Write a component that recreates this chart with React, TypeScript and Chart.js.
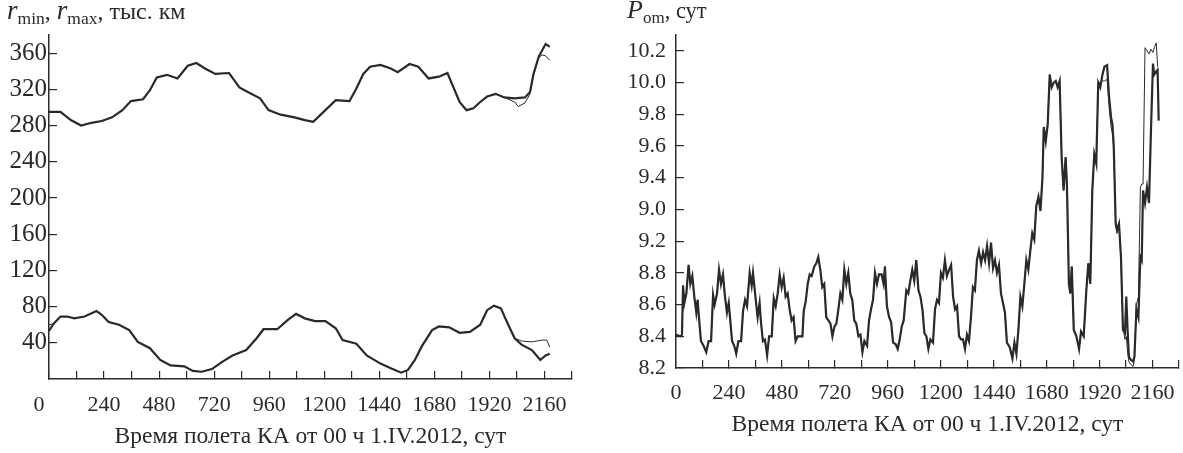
import React, { useEffect, useRef } from 'react';
import { Chart, registerables } from 'chart.js';
Chart.register(...registerables);

const FONT = "'Liberation Serif', 'Times New Roman', serif";
const INK = '#2a2a2a';

// ---- Left chart: r_min, r_max (thousand km) vs days ----
const rMaxDays = [0, 50, 95, 140, 185, 230, 275, 320, 357, 410,
  440, 470, 515, 560, 605, 642, 680, 725, 785, 830,
  875, 920, 957, 1010, 1070, 1115, 1152, 1205, 1250, 1310,
  1340, 1370, 1400, 1445, 1490, 1520, 1572, 1610, 1655, 1700,
  1737, 1760, 1790, 1820, 1850, 1880, 1910, 1947, 1985, 2030,
  2075, 2097, 2112, 2135, 2165, 2183];
const rMaxA = [295, 295, 286, 280, 283, 285, 289, 297, 307, 309,
  319, 333, 336, 332, 346, 349, 343, 337, 338, 322,
  316, 310, 297, 292, 289, 286, 284, 297, 308, 307,
  321, 337, 345, 347, 343, 339, 348, 345, 332, 334,
  338, 324, 306, 297, 299, 306, 312, 315, 311, 310,
  311, 317, 337, 356, 370, 367];
const rMaxBTailDays = [2030, 2045, 2075, 2097, 2112, 2135, 2150, 2165, 2183];
const rMaxBTail = [306, 301, 305, 315, 335, 355, 358, 357, 352];

const rMinDays = [0, 20, 50, 80, 110, 155, 207, 230, 260, 305,
  350, 387, 440, 485, 530, 590, 627, 665, 710, 755,
  800, 860, 905, 935, 995, 1040, 1077, 1115, 1160, 1205,
  1250, 1280, 1340, 1385, 1445, 1490, 1535, 1565, 1595, 1625,
  1670, 1700, 1745, 1790, 1835, 1880, 1910, 1940, 1970, 2000,
  2030, 2060, 2105, 2142, 2165, 2183];
const rMinA = [53, 61, 69, 69, 67, 69, 75, 71, 63, 60,
  54, 41, 34, 21, 15, 14, 9, 8, 11, 19,
  26, 32, 45, 55, 55, 65, 72, 67, 64, 64,
  56, 43, 39, 26, 17, 12, 7, 10, 21, 36,
  54, 58, 57, 51, 52, 60, 76, 81, 78, 61,
  45, 38, 32, 21, 26, 28];
const rMinBHeadDays = [0];
const rMinBHead = [60];
const rMinBTailDays = [2030, 2060, 2105, 2150, 2170, 2183];
const rMinBTail = [45, 42, 41, 43, 43, 35];

// ---- Right chart: P_om (days) vs days ----
const pOmDays = [0, 20, 27, 32, 38, 47, 57, 65, 74, 83,
  92, 98, 104, 113, 125, 137, 148, 159, 168, 175,
  186, 195, 204, 213, 222, 231, 239, 246, 254, 264,
  273, 283, 295, 304, 313, 322, 334, 343, 349, 360,
  370, 379, 385, 394, 403, 413, 422, 434, 443, 452,
  461, 470, 479, 488, 497, 506, 515, 524, 533, 542,
  552, 564, 573, 579, 588, 597, 606, 615, 627, 636,
  645, 654, 663, 672, 681, 691, 700, 709, 718, 727,
  736, 745, 754, 763, 772, 781, 790, 799, 808, 817,
  827, 836, 845, 854, 866, 875, 884, 893, 902, 911,
  920, 932, 941, 947, 956, 966, 975, 984, 996, 1005,
  1014, 1023, 1032, 1044, 1053, 1062, 1071, 1080, 1089, 1099,
  1108, 1117, 1126, 1135, 1144, 1153, 1165, 1174, 1183, 1192,
  1201, 1210, 1219, 1228, 1238, 1247, 1256, 1265, 1274, 1283,
  1292, 1301, 1310, 1319, 1328, 1337, 1346, 1355, 1364, 1373,
  1383, 1392, 1401, 1410, 1419, 1428, 1437, 1446, 1455, 1464,
  1473, 1482, 1491, 1500, 1513, 1525, 1534, 1543, 1552, 1561,
  1570, 1579, 1588, 1597, 1606, 1615, 1624, 1633, 1643, 1652,
  1661, 1667, 1676, 1685, 1694, 1703, 1712, 1721, 1730, 1739,
  1748, 1757, 1766, 1772, 1781, 1787, 1794, 1803, 1815, 1827,
  1836, 1848, 1860, 1869, 1878, 1887, 1896, 1905, 1914, 1923,
  1933, 1942, 1954, 1963, 1972, 1978, 1984, 1993, 1999, 2008,
  2017, 2026, 2035, 2041, 2047, 2053, 2063, 2072, 2078, 2087,
  2096, 2105, 2111, 2117, 2126, 2135, 2144, 2153, 2162, 2168,
  2177, 2183, 2188];
const pOmA = [8.41, 8.40, 8.41, 8.72, 8.61, 8.67, 8.85, 8.73, 8.78, 8.65,
  8.55, 8.63, 8.52, 8.37, 8.34, 8.30, 8.37, 8.37, 8.66, 8.60,
  8.67, 8.82, 8.73, 8.79, 8.65, 8.55, 8.61, 8.50, 8.37, 8.34,
  8.29, 8.37, 8.37, 8.56, 8.63, 8.59, 8.80, 8.72, 8.80, 8.65,
  8.52, 8.61, 8.49, 8.37, 8.38, 8.28, 8.40, 8.40, 8.64, 8.59,
  8.67, 8.79, 8.71, 8.77, 8.65, 8.67, 8.57, 8.50, 8.52, 8.37,
  8.40, 8.40, 8.40, 8.56, 8.62, 8.73, 8.79, 8.78, 8.84, 8.86,
  8.90, 8.82, 8.71, 8.73, 8.52, 8.50, 8.48, 8.40, 8.46, 8.48,
  8.57, 8.67, 8.63, 8.82, 8.73, 8.80, 8.67, 8.63, 8.50, 8.48,
  8.40, 8.41, 8.30, 8.37, 8.34, 8.50, 8.57, 8.63, 8.80, 8.73,
  8.79, 8.79, 8.73, 8.84, 8.59, 8.52, 8.49, 8.36, 8.35, 8.32,
  8.38, 8.46, 8.50, 8.69, 8.67, 8.75, 8.82, 8.75, 8.88, 8.69,
  8.65, 8.57, 8.42, 8.40, 8.32, 8.38, 8.36, 8.57, 8.63, 8.61,
  8.80, 8.77, 8.88, 8.78, 8.82, 8.85, 8.65, 8.57, 8.59, 8.40,
  8.38, 8.38, 8.32, 8.41, 8.37, 8.52, 8.71, 8.69, 8.88, 8.94,
  8.86, 8.93, 8.88, 8.97, 8.86, 8.99, 8.83, 8.88, 8.80, 8.85,
  8.67, 8.61, 8.55, 8.36, 8.33, 8.26, 8.36, 8.29, 8.44, 8.65,
  8.59, 8.73, 8.88, 8.82, 8.94, 9.05, 9.01, 9.22, 9.28, 9.19,
  9.40, 9.72, 9.63, 9.74, 10.05, 9.97, 10.00, 10.01, 9.97, 10.01,
  9.53, 9.32, 9.53, 9.36, 8.73, 8.67, 8.84, 8.44, 8.40, 8.32,
  8.43, 8.40, 8.69, 8.86, 8.73, 9.32, 9.55, 9.49, 10.00, 9.97,
  10.05, 10.10, 10.11, 9.91, 9.78, 9.74, 9.61, 9.11, 9.07, 9.11,
  8.90, 8.44, 8.42, 8.65, 8.44, 8.27, 8.25, 8.24, 8.27, 8.57,
  8.52, 8.90, 8.88, 9.32, 9.24, 9.34, 9.24, 9.70, 10.12, 10.05,
  10.07, 10.08, 9.76];
const pOmBTailDays = [1914, 1923, 1933, 1942, 1954, 1963, 1972, 1978, 1984, 1993,
  1999, 2008, 2017, 2026, 2035, 2041, 2047, 2053, 2063, 2072,
  2078, 2087, 2096, 2105, 2111, 2117, 2126, 2135, 2144, 2153,
  2162, 2168, 2177, 2183];
const pOmBTail = [10.00, 10.00, 10.01, 10.01, 10.02, 9.85, 9.72, 9.68, 9.58, 9.12,
  9.05, 9.10, 8.88, 8.46, 8.38, 8.40, 8.30, 8.24, 8.22, 8.21,
  8.26, 8.60, 8.65, 9.34, 9.36, 9.36, 10.22, 10.20, 10.18, 10.21,
  10.19, 10.22, 10.25, 10.10];

// ---- Axes ----
const xTickValues = [0, 120, 240, 360, 480, 600, 720, 840, 960, 1080, 1200,
  1320, 1440, 1560, 1680, 1800, 1920, 2040, 2160, 2280];
const xTickLabels = ['0', '240', '480', '720', '960', '1200', '1440', '1680', '1920', '2160'];
const leftYTickValues = [40, 80, 120, 160, 200, 240, 280, 320, 360];
const rightYTickValues = [8.2, 8.4, 8.6, 8.8, 9.0, 9.2, 9.4, 9.6, 9.8, 10.0, 10.2];
const rightYTickLabels = ['8.2', '8.4', '8.6', '8.8', '9.2', '9.0', '9.4', '9.6', '9.8', '10.0', '10.2'];
const xTitle = 'Время полета КА от 00 ч 1.IV.2012, сут';

const X_TICK_SIZE = 22;

function toPoints(days: number[], vals: number[]) {
  return days.map((d, i) => ({ x: d, y: vals[i] }));
}
function variant(days: number[], vals: number[], headD: number[], headV: number[], tailD: number[], tailV: number[]) {
  const head = toPoints(headD, headV);
  const tail = toPoints(tailD, tailV);
  const hEnd = headD.length ? headD[headD.length - 1] : -Infinity;
  const tStart = tailD.length ? tailD[0] : Infinity;
  const mid = toPoints(days, vals).filter(p => p.x > hEnd && p.x < tStart);
  return [...head, ...mid, ...tail];
}

function lineDs(data: any[], width: number) {
  return { data, borderColor: INK, borderWidth: width, pointRadius: 0, tension: 0, fill: false };
}

function xScale(height: number, padding: number, titlePadBottom: number, padRight: number, hideZero: boolean) {
  return {
    type: 'linear', min: 0, max: 2280,
    afterBuildTicks: (s: any) => { s.ticks = xTickValues.map(v => ({ value: v })); },
    afterFit: (s: any) => { s.height = height; s.paddingLeft = 0; s.paddingRight = padRight; },
    ticks: {
      autoSkip: false, maxRotation: 0, padding, color: INK,
      font: { family: FONT, size: X_TICK_SIZE },
      callback: (v: number) => {
        const t = String(v);
        if (hideZero && t === '0') return '';
        return xTickLabels.includes(t) ? t : '';
      },
    },
    grid: { drawOnChartArea: false, tickLength: -8, color: INK, lineWidth: 1.2 },
    border: { color: INK, width: 1.5 },
    title: { display: true, text: xTitle, color: INK, font: { family: FONT, size: 23.5 }, padding: { top: 0, bottom: titlePadBottom } },
  };
}

// Draws the "0" of the left chart's time axis shifted left of the origin, as in the original figure
const zeroLabelPlugin = {
  id: 'zeroLabel',
  afterDraw(chart: any) {
    const sx = chart.scales.x;
    const ctx = chart.ctx;
    ctx.save();
    ctx.font = `${X_TICK_SIZE}px ${FONT}`;
    ctx.fillStyle = INK;
    ctx.textAlign = 'center';
    ctx.textBaseline = 'middle';
    const y = sx.top + (sx.options.ticks.padding - 8) + (X_TICK_SIZE * 1.2) / 2;
    ctx.fillText(xTickLabels[0], sx.getPixelForValue(0) - 10, y);
    ctx.restore();
  },
};

export default function App() {
  const leftRef = useRef<HTMLCanvasElement>(null);
  const rightRef = useRef<HTMLCanvasElement>(null);

  useEffect(() => {
    const left = new Chart(leftRef.current as HTMLCanvasElement, {
      type: 'line',
      data: {
        datasets: [
          lineDs(variant(rMaxDays, rMaxA, [], [], rMaxBTailDays, rMaxBTail), 1),
          lineDs(toPoints(rMaxDays, rMaxA), 2.2),
          lineDs(variant(rMinDays, rMinA, rMinBHeadDays, rMinBHead, rMinBTailDays, rMinBTail), 1),
          lineDs(toPoints(rMinDays, rMinA), 2.2),
        ] as any,
      },
      options: {
        responsive: false, animation: false,
        layout: { padding: { top: 35, right: 0, left: 0, bottom: 0 } },
        plugins: { legend: { display: false }, tooltip: { enabled: false } },
        scales: {
          x: xScale(74, 21, 2, 18, true) as any,
          y: {
            type: 'linear', min: 0, max: 380,
            afterBuildTicks: (s: any) => { s.ticks = leftYTickValues.map(v => ({ value: v })); },
            afterFit: (s: any) => { s.width = 49; s.paddingTop = 0; s.paddingBottom = 0; },
            ticks: { padding: 10, color: INK, font: { family: FONT, size: 25 } },
            grid: { drawOnChartArea: false, tickLength: -8, color: INK, lineWidth: 1.2 },
            border: { color: INK, width: 1.5 },
          } as any,
        },
      },
      plugins: [zeroLabelPlugin],
    });
    const right = new Chart(rightRef.current as HTMLCanvasElement, {
      type: 'line',
      data: {
        datasets: [
          lineDs(variant(pOmDays, pOmA, [], [], pOmBTailDays, pOmBTail), 1),
          lineDs(toPoints(pOmDays, pOmA), 2.2),
        ] as any,
      },
      options: {
        responsive: false, animation: false,
        layout: { padding: { top: 35, right: 0, left: 0, bottom: 0 } },
        plugins: { legend: { display: false }, tooltip: { enabled: false } },
        scales: {
          x: xScale(85, 20, 14, 4, false) as any,
          y: {
            type: 'linear', min: 8.2, max: 10.3,
            afterBuildTicks: (s: any) => { s.ticks = rightYTickValues.map(v => ({ value: v })); },
            afterFit: (s: any) => { s.width = 86; s.paddingTop = 0; s.paddingBottom = 0; },
            ticks: {
              padding: 18, color: INK, font: { family: FONT, size: 22 },
              callback: (_v: number, i: number) => rightYTickLabels[i],
            },
            grid: { drawOnChartArea: false, tickLength: -8, color: INK, lineWidth: 1.2 },
            border: { color: INK, width: 1.5 },
          } as any,
        },
      },
    });
    return () => { left.destroy(); right.destroy(); };
  }, []);

  const titleBase: React.CSSProperties = {
    position: 'absolute', top: -4, fontFamily: FONT, lineHeight: '28px', color: INK, whiteSpace: 'nowrap',
  };

  return (
    <div style={{ position: 'fixed', left: 0, top: 0, width: 1183, height: 453, background: '#fff', overflow: 'hidden' }}>
      <canvas ref={leftRef} width={590} height={453} style={{ position: 'absolute', left: 0, top: 0 }} />
      <canvas ref={rightRef} width={593} height={453} style={{ position: 'absolute', left: 590, top: 0 }} />
      <div style={{ ...titleBase, left: 7, fontSize: 24 }}>
        <span style={{ fontStyle: 'italic', fontSize: 27 }}>r</span>
        <span style={{ fontSize: 17.5, position: 'relative', top: 5 }}>min</span>, <span style={{ fontStyle: 'italic', fontSize: 27 }}>r</span>
        <span style={{ fontSize: 17.5, position: 'relative', top: 5 }}>max</span>, тыс. км
      </div>
      <div style={{ ...titleBase, left: 627, fontSize: 22.5 }}>
        <span style={{ fontStyle: 'italic', fontSize: 26 }}>P</span>
        <span style={{ fontSize: 17, position: 'relative', top: 5 }}>om</span>, сут
      </div>
    </div>
  );
}
